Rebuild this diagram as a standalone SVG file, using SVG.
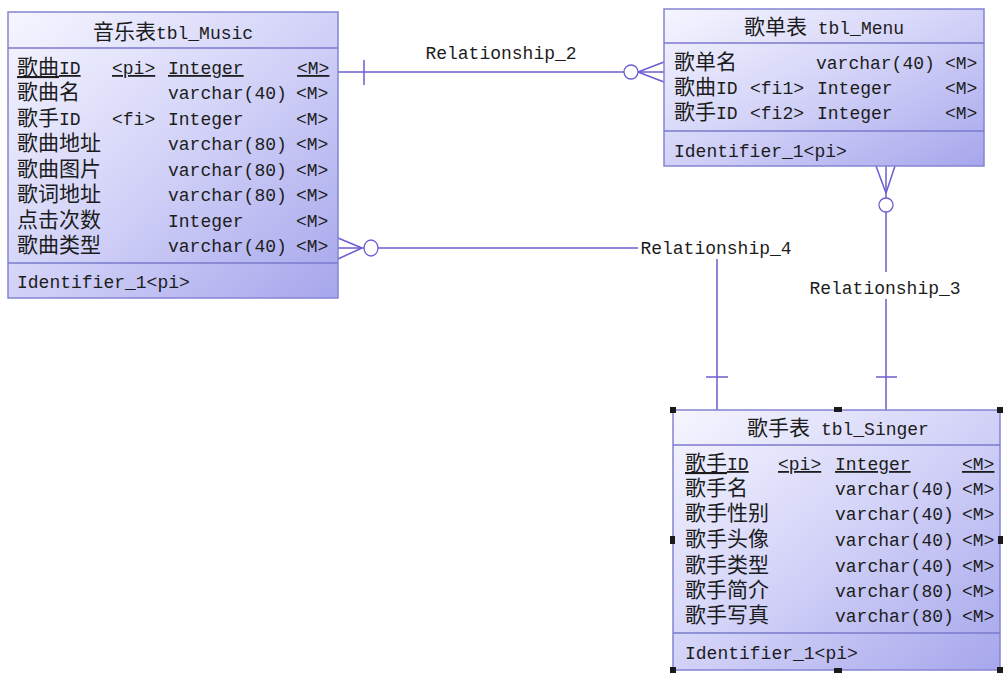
<svg xmlns="http://www.w3.org/2000/svg" width="1003" height="675" viewBox="0 0 1003 675">
<defs>
<linearGradient id="g" x1="0" y1="0" x2="1" y2="1">
<stop offset="0" stop-color="#f6f6ff"/>
<stop offset="0.5" stop-color="#d2d2f8"/>
<stop offset="1" stop-color="#a6a6ec"/>
</linearGradient>
<style>
.box{stroke:#8484d4;stroke-width:1.5}
.dv{stroke:#7a7acc;stroke-width:1.5}
.t{font-family:"Liberation Mono","Noto Sans CJK SC",monospace;font-size:18px;fill:#1c1c1c}
.c{font-family:"Noto Sans CJK SC",sans-serif;font-size:21px}
.u{text-decoration:underline}
.ln{stroke:#6a5ed0;stroke-width:1.5;fill:none}
.o{stroke:#6a5ed0;stroke-width:1.3;fill:#fff}
.h{fill:#1a1a1a}
</style>
</defs>
<rect width="1003" height="675" fill="#fff"/>

<g id="connectors">
<!-- Relationship_2 -->
<line x1="338" y1="72" x2="664" y2="72" class="ln"/>
<line x1="364" y1="60" x2="364" y2="85" class="ln"/>
<line x1="638" y1="72" x2="664" y2="62" class="ln"/>
<line x1="638" y1="72" x2="664" y2="82" class="ln"/>
<circle cx="631" cy="72" r="7" class="o"/>
<text x="501" y="59" text-anchor="middle" class="t">Relationship_2</text>
<!-- Relationship_4 -->
<line x1="338" y1="248" x2="638" y2="248" class="ln"/>
<line x1="362" y1="248" x2="338" y2="238" class="ln"/>
<line x1="362" y1="248" x2="338" y2="259" class="ln"/>
<ellipse cx="371" cy="248" rx="7" ry="8" class="o"/>
<line x1="717" y1="259" x2="717" y2="410" class="ln"/>
<line x1="706" y1="377" x2="728" y2="377" class="ln"/>
<text x="716" y="254" text-anchor="middle" class="t">Relationship_4</text>
<!-- Relationship_3 -->
<line x1="886" y1="166" x2="886" y2="198" class="ln"/>
<line x1="876" y1="166" x2="886" y2="193" class="ln"/>
<line x1="895" y1="166" x2="886" y2="193" class="ln"/>
<circle cx="886" cy="205" r="7" class="o"/>
<line x1="886" y1="212" x2="886" y2="272" class="ln"/>
<line x1="886" y1="299" x2="886" y2="410" class="ln"/>
<line x1="876" y1="377" x2="897" y2="377" class="ln"/>
<text x="885" y="294" text-anchor="middle" class="t">Relationship_3</text>
</g>

<g id="tbl_Music">
<rect x="8" y="12" width="330" height="286" fill="url(#g)" class="box"/>
<line x1="8" y1="48" x2="338" y2="48" class="dv"/>
<line x1="8" y1="263" x2="338" y2="263" class="dv"/>
<text x="173" y="39" text-anchor="middle" class="t"><tspan class="c">音乐表</tspan>tbl_Music</text>
<text x="17" y="74" class="t u"><tspan class="c">歌曲</tspan>ID</text>
<text x="112" y="74" class="t u">&lt;pi&gt;</text>
<text x="168" y="74" class="t u">Integer</text>
<text x="297" y="74" class="t u">&lt;M&gt;</text>
<text x="17" y="99" class="t"><tspan class="c">歌曲名</tspan></text>
<text x="168" y="99" class="t">varchar(40)</text>
<text x="296" y="99" class="t">&lt;M&gt;</text>
<text x="17" y="125" class="t"><tspan class="c">歌手</tspan>ID</text>
<text x="112" y="125" class="t">&lt;fi&gt;</text>
<text x="168" y="125" class="t">Integer</text>
<text x="296" y="125" class="t">&lt;M&gt;</text>
<text x="17" y="150" class="t"><tspan class="c">歌曲地址</tspan></text>
<text x="168" y="150" class="t">varchar(80)</text>
<text x="296" y="150" class="t">&lt;M&gt;</text>
<text x="17" y="176" class="t"><tspan class="c">歌曲图片</tspan></text>
<text x="168" y="176" class="t">varchar(80)</text>
<text x="296" y="176" class="t">&lt;M&gt;</text>
<text x="17" y="201" class="t"><tspan class="c">歌词地址</tspan></text>
<text x="168" y="201" class="t">varchar(80)</text>
<text x="296" y="201" class="t">&lt;M&gt;</text>
<text x="17" y="227" class="t"><tspan class="c">点击次数</tspan></text>
<text x="168" y="227" class="t">Integer</text>
<text x="296" y="227" class="t">&lt;M&gt;</text>
<text x="17" y="252" class="t"><tspan class="c">歌曲类型</tspan></text>
<text x="168" y="252" class="t">varchar(40)</text>
<text x="296" y="252" class="t">&lt;M&gt;</text>
<text x="17" y="288" class="t">Identifier_1&lt;pi&gt;</text>
</g>

<g id="tbl_Menu">
<rect x="664" y="9" width="320" height="157" fill="url(#g)" class="box"/>
<line x1="664" y1="43" x2="984" y2="43" class="dv"/>
<line x1="664" y1="131" x2="984" y2="131" class="dv"/>
<text x="824" y="34" text-anchor="middle" class="t"><tspan class="c">歌单表</tspan> tbl_Menu</text>
<text x="674" y="69" class="t"><tspan class="c">歌单名</tspan></text>
<text x="816" y="69" class="t">varchar(40)</text>
<text x="945" y="69" class="t">&lt;M&gt;</text>
<text x="674" y="94" class="t"><tspan class="c">歌曲</tspan>ID</text>
<text x="750" y="94" class="t">&lt;fi1&gt;</text>
<text x="817" y="94" class="t">Integer</text>
<text x="945" y="94" class="t">&lt;M&gt;</text>
<text x="674" y="119" class="t"><tspan class="c">歌手</tspan>ID</text>
<text x="750" y="119" class="t">&lt;fi2&gt;</text>
<text x="817" y="119" class="t">Integer</text>
<text x="945" y="119" class="t">&lt;M&gt;</text>
<text x="674" y="157" class="t">Identifier_1&lt;pi&gt;</text>
</g>

<g id="tbl_Singer">
<rect x="673" y="410" width="327" height="260" fill="url(#g)" class="box"/>
<line x1="673" y1="445" x2="1000" y2="445" class="dv"/>
<line x1="673" y1="633" x2="1000" y2="633" class="dv"/>
<text x="838" y="435" text-anchor="middle" class="t"><tspan class="c">歌手表</tspan> tbl_Singer</text>
<text x="685" y="470" class="t u"><tspan class="c">歌手</tspan>ID</text>
<text x="778" y="470" class="t u">&lt;pi&gt;</text>
<text x="835" y="470" class="t u">Integer</text>
<text x="962" y="470" class="t u">&lt;M&gt;</text>
<text x="685" y="495" class="t"><tspan class="c">歌手名</tspan></text>
<text x="835" y="495" class="t">varchar(40)</text>
<text x="962" y="495" class="t">&lt;M&gt;</text>
<text x="685" y="520" class="t"><tspan class="c">歌手性别</tspan></text>
<text x="835" y="520" class="t">varchar(40)</text>
<text x="962" y="520" class="t">&lt;M&gt;</text>
<text x="685" y="546" class="t"><tspan class="c">歌手头像</tspan></text>
<text x="835" y="546" class="t">varchar(40)</text>
<text x="962" y="546" class="t">&lt;M&gt;</text>
<text x="685" y="572" class="t"><tspan class="c">歌手类型</tspan></text>
<text x="835" y="572" class="t">varchar(40)</text>
<text x="962" y="572" class="t">&lt;M&gt;</text>
<text x="685" y="597" class="t"><tspan class="c">歌手简介</tspan></text>
<text x="835" y="597" class="t">varchar(80)</text>
<text x="962" y="597" class="t">&lt;M&gt;</text>
<text x="685" y="622" class="t"><tspan class="c">歌手写真</tspan></text>
<text x="835" y="622" class="t">varchar(80)</text>
<text x="962" y="622" class="t">&lt;M&gt;</text>
<text x="685" y="659" class="t">Identifier_1&lt;pi&gt;</text>
<rect x="670" y="407" width="6" height="6" class="h"/>
<rect x="834" y="407" width="8" height="5" class="h"/>
<rect x="997" y="407" width="6" height="6" class="h"/>
<rect x="670" y="536" width="5" height="8" class="h"/>
<rect x="998" y="536" width="5" height="8" class="h"/>
<rect x="670" y="667" width="6" height="6" class="h"/>
<rect x="834" y="668" width="8" height="5" class="h"/>
<rect x="997" y="667" width="6" height="6" class="h"/>
</g>
</svg>
